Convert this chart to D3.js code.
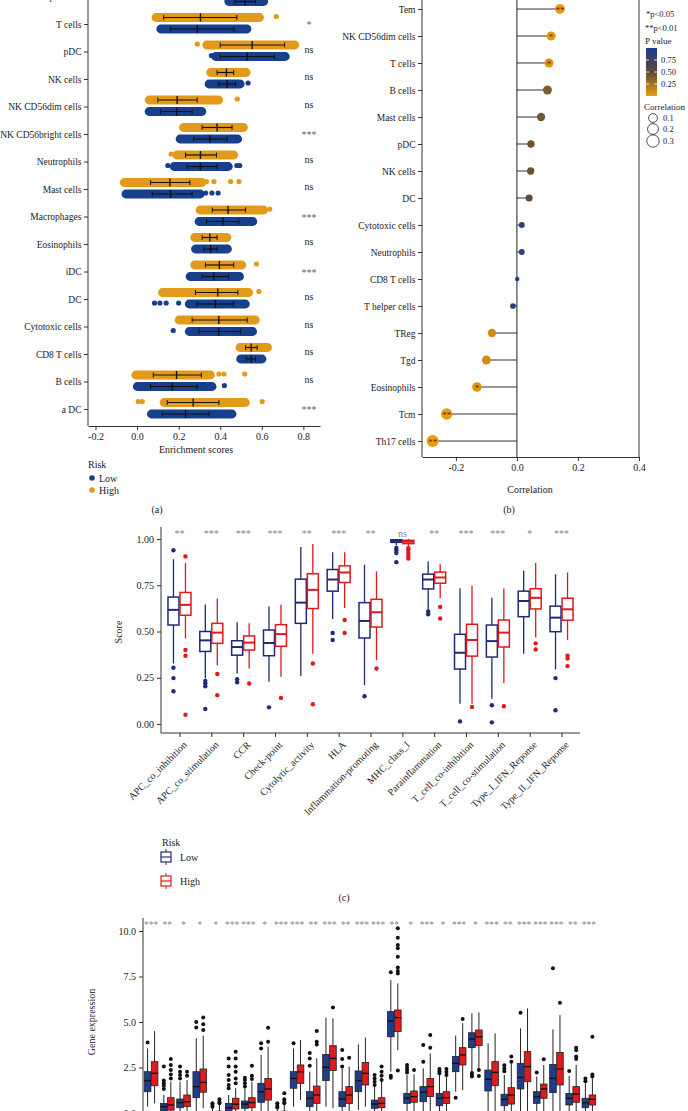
<!DOCTYPE html>
<html>
<head>
<meta charset="utf-8">
<script src="https://cdn.jsdelivr.net/npm/d3@7"></script>
<style>
  body { margin: 0; background: #fff; }
  svg { display: block; }
</style>
</head>
<body>
<svg id="fig" width="688" height="1111"></svg>
<script>
// ---------- panel (a): enrichment scores by risk ----------
const enrichCells = ["T helper cells", "T cells", "pDC", "NK cells", "NK CD56dim cells", "NK CD56bright cells",
  "Neutrophils", "Mast cells", "Macrophages", "Eosinophils", "iDC", "DC", "Cytotoxic cells", "CD8 T cells", "B cells", "a DC"];
const enrichSig = ["", "*", "ns", "ns", "ns", "***", "ns", "ns", "***", "ns", "***", "ns", "ns", "ns", "ns", "***"];
// dense part of each strip [min, max]
const highRange = [[0.42, 0.62], [0.09, 0.59], [0.334, 0.76], [0.353, 0.526], [0.057, 0.394], [0.222, 0.513],
  [0.19, 0.466], [-0.063, 0.313], [0.302, 0.61], [0.276, 0.433], [0.276, 0.505], [0.121, 0.538],
  [0.201, 0.57], [0.494, 0.629], [-0.007, 0.354], [0.129, 0.522]];
const lowRange = [[0.44, 0.61], [0.113, 0.53], [0.377, 0.714], [0.345, 0.497], [0.057, 0.313], [0.206, 0.485],
  [0.177, 0.44], [-0.055, 0.305], [0.297, 0.558], [0.28, 0.436], [0.254, 0.494], [0.25, 0.522],
  [0.25, 0.557], [0.497, 0.602], [0.0, 0.362], [0.068, 0.458]];
// loose points outside the dense part
const highExtra = [[], [0.67], [0.29], [], [0.482], [], [0.164], [0.334, 0.37, 0.45, 0.49], [0.638], [], [0.574], [0.586],
  [], [], [0.394, 0.418, 0.518], [0.006, 0.025, 0.602]];
const lowExtra = [[], [], [0.358], [0.534], [], [], [0.148, 0.48, 0.494], [0.33, 0.36, 0.39], [], [], [], [0.084, 0.11, 0.14, 0.2],
  [0.174], [], [0.42], []];
const highMean = [0.52, 0.305, 0.554, 0.43, 0.193, 0.385, 0.305, 0.158, 0.438, 0.35, 0.396, 0.388, 0.393, 0.549, 0.19, 0.27];
const lowMean = [0.52, 0.29, 0.53, 0.433, 0.19, 0.35, 0.305, 0.161, 0.414, 0.354, 0.369, 0.377, 0.393, 0.549, 0.169, 0.233];
const highBar = [[0.46, 0.58], [0.128, 0.48], [0.40, 0.71], [0.385, 0.465], [0.1, 0.289], [0.313, 0.457], [0.233, 0.382],
  [0.065, 0.254], [0.362, 0.522], [0.313, 0.385], [0.329, 0.465], [0.281, 0.485], [0.265, 0.53], [0.522, 0.578],
  [0.078, 0.309], [0.145, 0.394]];
const lowBar = [[0.47, 0.57], [0.16, 0.466], [0.40, 0.66], [0.393, 0.473], [0.113, 0.265], [0.273, 0.433], [0.241, 0.385],
  [0.073, 0.265], [0.334, 0.49], [0.321, 0.385], [0.313, 0.441], [0.289, 0.465], [0.297, 0.497], [0.526, 0.57],
  [0.065, 0.289], [0.121, 0.346]];

// ---------- panel (b): correlation lollipop ----------
const corrCells = ["Tem", "NK CD56dim cells", "T cells", "B cells", "Mast cells", "pDC", "NK cells", "DC", "Cytotoxic cells",
  "Neutrophils", "CD8 T cells", "T helper cells", "TReg", "Tgd", "Eosinophils", "Tcm", "Th17 cells"];
const corrValues = [0.141, 0.112, 0.105, 0.10, 0.079, 0.046, 0.045, 0.04, 0.016, 0.016, 0.001, -0.013, -0.082, -0.1, -0.131, -0.23, -0.276];
const corrP = [0.004, 0.03, 0.04, 0.38, 0.42, 0.45, 0.45, 0.5, 0.85, 0.87, 0.95, 0.9, 0.1, 0.1, 0.04, 0.003, 0.001];
const corrStars = ["**", "*", "*", "", "", "", "", "", "", "", "", "", "", "", "*", "**", "**"];

// ---------- panel (c): immune function scores ----------
const immuneFn = ["APC_co_inhibition", "APC_co_stimulation", "CCR", "Check-point", "Cytolytic_activity", "HLA",
  "Inflammation-promoting", "MHC_class_I", "Parainflammation", "T_cell_co-inhibition", "T_cell_co-stimulation",
  "Type_I_IFN_Reponse", "Type_II_IFN_Reponse"];
const scoreSig = ["**", "***", "***", "***", "**", "***", "**", "ns", "**", "***", "***", "*", "***"];
// [whisker low, q1, median, q3, whisker high]
const scoreLow = [[0.327, 0.535, 0.617, 0.686, 0.891], [0.246, 0.392, 0.452, 0.50, 0.646], [0.273, 0.372, 0.416, 0.45, 0.55],
  [0.228, 0.369, 0.438, 0.508, 0.635], [0.26, 0.544, 0.656, 0.783, 0.957], [0.568, 0.718, 0.781, 0.835, 0.928],
  [0.21, 0.465, 0.557, 0.656, 0.861], [0.965, 0.982, 0.989, 0.996, 1.0], [0.617, 0.73, 0.781, 0.81, 0.879],
  [0.11, 0.297, 0.385, 0.485, 0.734], [0.137, 0.362, 0.448, 0.535, 0.682], [0.38, 0.58, 0.665, 0.718, 0.83],
  [0.295, 0.499, 0.575, 0.637, 0.81]];
const scoreHigh = [[0.463, 0.588, 0.644, 0.711, 0.87], [0.318, 0.436, 0.494, 0.544, 0.678], [0.30, 0.40, 0.44, 0.476, 0.544],
  [0.255, 0.42, 0.486, 0.537, 0.644], [0.38, 0.624, 0.725, 0.812, 0.973], [0.627, 0.765, 0.819, 0.855, 0.928],
  [0.345, 0.524, 0.604, 0.674, 0.825], [0.96, 0.975, 0.985, 0.993, 1.0], [0.68, 0.761, 0.792, 0.821, 0.864],
  [0.11, 0.367, 0.454, 0.539, 0.747], [0.222, 0.416, 0.494, 0.562, 0.732], [0.468, 0.622, 0.682, 0.731, 0.87],
  [0.454, 0.561, 0.62, 0.68, 0.819]];
const scoreLowOut = [[0.939, 0.304, 0.248, 0.177], [0.233, 0.219, 0.204, 0.081], [0.242, 0.226], [0.09], [], [0.492, 0.454],
  [0.15], [0.951, 0.939, 0.924, 0.875], [0.608, 0.593], [0.014], [0.101, 0.009], [], [0.248, 0.074]];
const scoreHighOut = [[0.906, 0.40, 0.369, 0.05], [0.27, 0.156], [0.219], [0.141], [0.327, 0.107], [0.562, 0.492], [0.30],
  [0.95, 0.94, 0.924, 0.908, 0.895], [0.633, 0.57], [0.092], [0.096], [0.436, 0.403], [0.369, 0.354, 0.313]];

// ---------- panel (d): gene expression (x labels are cut off in the figure) ----------
const genes = ["g01", "g02", "g03", "g04", "g05", "g06", "g07", "g08", "g09", "g10", "g11", "g12", "g13", "g14",
  "g15", "g16", "g17", "g18", "g19", "g20", "g21", "g22", "g23", "g24", "g25", "g26", "g27", "g28"];
const geneSig = ["***", "**", "*", "*", "*", "***", "***", "*", "***", "***", "**", "***", "**", "***",
  "***", "**", "*", "***", "*", "***", "*", "***", "**", "***", "***", "***", "**", "***"];
const geneLow = [[0.35, 1.17, 1.78, 2.27, 3.55], [0, 0.11, 0.35, 0.53, 0.99], [0, 0.29, 0.57, 0.77, 1.72], [0, 0.84, 1.45, 2.27, 4.1],
  [0, 0.02, 0.04, 0.07, 0.3], [0, 0.07, 0.29, 0.53, 0.99], [0, 0.26, 0.49, 0.66, 1.36], [0, 0.59, 1.17, 1.63, 3.19],
  [0, 0.02, 0.04, 0.07, 0.25], [0.35, 1.36, 1.9, 2.27, 3.55], [0, 0.35, 0.81, 1.17, 2.27], [0.35, 1.78, 2.51, 3.22, 5.24],
  [0, 0.35, 0.77, 1.17, 2.45], [0.16, 1.17, 1.78, 2.31, 3.77], [0, 0.26, 0.49, 0.71, 1.45], [2.27, 4.19, 5.05, 5.57, 7.31],
  [0, 0.53, 0.81, 1.08, 2.09], [0, 0.62, 1.14, 1.45, 2.45], [0, 0.40, 0.81, 1.08, 2.09], [1.17, 2.27, 2.73, 3.1, 4.25],
  [2.27, 3.59, 4.07, 4.41, 5.48], [0, 1.21, 1.85, 2.36, 3.83], [0, 0.4, 0.75, 1.03, 2.09], [0, 1.32, 1.96, 2.73, 4.65],
  [0, 0.53, 0.9, 1.17, 2.0], [0, 1.12, 1.9, 2.67, 4.6], [0, 0.44, 0.81, 1.08, 2.05], [0, 0.29, 0.57, 0.81, 1.63]];
const geneHigh = [[0.53, 1.50, 2.18, 2.82, 4.5], [0, 0.16, 0.44, 0.84, 1.72], [0, 0.35, 0.62, 0.99, 1.81], [0.26, 1.14, 1.68, 2.42, 4.25],
  [0, 0.02, 0.05, 0.1, 0.45], [0, 0.22, 0.48, 0.81, 1.36], [0, 0.29, 0.57, 0.84, 1.72], [0, 0.71, 1.32, 1.9, 3.64],
  [0, 0.03, 0.06, 0.1, 0.45], [0.71, 1.63, 2.27, 2.64, 4.01], [0, 0.53, 0.99, 1.48, 3.0], [0.26, 2.34, 3.0, 3.7, 5.2],
  [0, 0.53, 0.99, 1.45, 2.55], [0.35, 1.54, 2.18, 2.78, 4.14], [0, 0.29, 0.53, 0.84, 1.72], [3.46, 4.47, 5.24, 5.66, 7.12],
  [0, 0.59, 0.9, 1.21, 2.12], [0, 0.9, 1.45, 1.9, 3.28], [0, 0.53, 0.84, 1.17, 2.0], [1.26, 2.64, 3.19, 3.59, 4.93],
  [2.45, 3.7, 4.19, 4.56, 5.53], [0, 1.5, 2.23, 2.82, 4.38], [0, 0.49, 0.99, 1.39, 2.73], [0, 1.72, 2.55, 3.37, 5.75],
  [0, 0.81, 1.32, 1.59, 2.64], [0, 1.54, 2.42, 3.33, 5.38], [0, 0.59, 1.04, 1.45, 2.64], [0, 0.44, 0.75, 0.99, 1.9]];
const geneLowOut = [[3.88], [1.32, 1.5, 1.63, 1.78, 2.55], [1.9, 2.09, 2.27, 2.55], [4.7, 5.0], [0.35, 0.44, 0.53],
  [1.36, 1.54, 1.81, 2.09, 2.55, 3.0], [1.45, 1.63, 1.81, 1.94], [3.55, 3.83], [0.3, 0.4, 0.53], [3.83], [2.6, 3.0, 3.3], [],
  [2.55, 2.97, 3.46], [], [1.54, 1.72, 1.9, 2.09], [7.73, 2.05, 1.94], [2.23, 2.36, 2.49, 2.64], [2.82, 3.74], [2.18, 2.3, 2.42],
  [0.84], [2.0, 2.1, 2.2], [], [2.3, 2.45, 2.63], [5.51], [2.23], [7.95], [2.31], [1.75, 1.9]];
const geneHighOut = [[], [1.9, 2.12, 2.36, 2.64, 2.97], [2.05, 2.27], [4.56, 4.87, 5.25], [0.53, 0.62, 0.75],
  [1.63, 1.9, 2.27, 2.55, 3.0, 3.37], [1.87, 2.05, 2.6], [3.92, 4.69], [0.53, 0.62, 0.75, 1.08], [], [3.77, 3.92, 4.5], [5.8],
  [3.04], [], [1.81, 2.05, 2.27, 2.55], [7.67, 7.8, 7.99, 8.59, 9.05, 9.23, 9.63, 10.15, 2.33], [2.36], [3.59, 4.29],
  [2.09, 2.25, 2.42], [5.16], [2.36, 2.03], [], [2.82, 3.1], [], [2.95], [6.06], [2.97, 3.1, 3.45, 3.59], [2.0, 2.12, 4.19]];

const serif = "'Liberation Serif', 'DejaVu Serif', serif";
const svg = d3.select("#fig");
const fmt1 = d => d.toFixed(1);
const fmt2 = d => d.toFixed(2);

function styleAxis(g, size) {
  g.selectAll("text").attr("font-family", serif).attr("font-size", size || 10).attr("fill", "#222");
  g.selectAll("path.domain, .tick line").attr("stroke", "#333");
}
function label(g, x, y, txt, size, anchor) {
  return g.append("text").attr("x", x).attr("y", y).attr("font-family", serif)
    .attr("font-size", size || 10).attr("fill", "#222").attr("text-anchor", anchor || "start").text(txt);
}

// ================= (a) =================
const riskLow = "#173f8c", riskHigh = "#e39a1b";
const ga = svg.append("g");
const xA = d3.scaleLinear().domain([-0.236, 0.88]).range([88, 320]);
const yA = d3.scalePoint().domain(enrichCells).range([-3.5, 409]);

function strip(cy, color, range, extra, mean, bar) {
  ga.append("rect").attr("x", xA(range[0]) - 4.2).attr("width", xA(range[1]) - xA(range[0]) + 8.4)
    .attr("y", cy - 4.4).attr("height", 8.8).attr("rx", 4.4).attr("fill", color);
  extra.forEach(v => ga.append("circle").attr("cx", xA(v)).attr("cy", cy - 1).attr("r", 2.6).attr("fill", color));
  ga.append("line").attr("x1", xA(bar[0])).attr("x2", xA(bar[1])).attr("y1", cy).attr("y2", cy)
    .attr("stroke", "#111").attr("stroke-width", 1.2);
  [bar[0], bar[1]].forEach(v => ga.append("line").attr("x1", xA(v)).attr("x2", xA(v))
    .attr("y1", cy - 2.5).attr("y2", cy + 2.5).attr("stroke", "#111").attr("stroke-width", 1));
  ga.append("line").attr("x1", xA(mean)).attr("x2", xA(mean)).attr("y1", cy - 4).attr("y2", cy + 4)
    .attr("stroke", "#111").attr("stroke-width", 1.4);
}
enrichCells.forEach((c, i) => {
  strip(yA(c) - 6.5, riskHigh, highRange[i], highExtra[i], highMean[i], highBar[i]);
  strip(yA(c) + 5, riskLow, lowRange[i], lowExtra[i], lowMean[i], lowBar[i]);
  if (enrichSig[i]) {
    ga.append("text").attr("x", 309).attr("y", yA(c) + (enrichSig[i] === "ns" ? 1 : 4)).attr("text-anchor", "middle")
      .attr("font-family", serif).attr("font-size", 10)
      .attr("fill", enrichSig[i] === "ns" ? "#222" : "#666").text(enrichSig[i]);
  }
});
const axALeft = ga.append("g").attr("transform", "translate(88,0)")
  .call(d3.axisLeft(yA).tickSize(4).tickPadding(2.5).tickSizeOuter(0));
axALeft.select(".domain").remove();
styleAxis(axALeft, 9.5);
ga.append("line").attr("x1", 88).attr("x2", 88).attr("y1", 0).attr("y2", 426).attr("stroke", "#333");
const axABottom = ga.append("g").attr("transform", "translate(0,426)")
  .call(d3.axisBottom(xA).tickValues([-0.2, 0, 0.2, 0.4, 0.6, 0.8]).tickFormat(fmt1).tickSize(4).tickSizeOuter(0));
styleAxis(axABottom, 10);
label(ga, 196, 453, "Enrichment scores", 10, "middle");
label(ga, 88, 468, "Risk", 10);
ga.append("circle").attr("cx", 92).attr("cy", 478).attr("r", 2.8).attr("fill", riskLow);
label(ga, 99, 481.5, "Low", 10);
ga.append("circle").attr("cx", 92).attr("cy", 490).attr("r", 2.8).attr("fill", riskHigh);
label(ga, 99, 493.5, "High", 10);
label(ga, 157, 513, "(a)", 10, "middle");

// ================= (b) =================
const gb = svg.append("g");
const xB = d3.scaleLinear().domain([-0.311, 0.4]).range([422, 639]);
const yB = d3.scalePoint().domain(corrCells).range([9, 441]);
const pColor = d3.scaleLinear().domain([0, 0.5, 1]).range(["#ea9d0c", "#5d4a37", "#1b3c8e"]);
const rB = d3.scaleSqrt().domain([0, 0.3]).range([2, 6.2]);

gb.append("line").attr("x1", xB(0)).attr("x2", xB(0)).attr("y1", 0).attr("y2", 457).attr("stroke", "#222");
gb.append("line").attr("x1", 639).attr("x2", 639).attr("y1", 0).attr("y2", 457).attr("stroke", "#333");
gb.append("line").attr("x1", 422).attr("x2", 422).attr("y1", 0).attr("y2", 457).attr("stroke", "#333");
corrCells.forEach((c, i) => {
  const cy = yB(c), cx = xB(corrValues[i]);
  gb.append("line").attr("x1", xB(0)).attr("x2", cx).attr("y1", cy).attr("y2", cy).attr("stroke", "#333").attr("stroke-width", 1);
  gb.append("circle").attr("cx", cx).attr("cy", cy).attr("r", rB(Math.abs(corrValues[i]))).attr("fill", pColor(corrP[i]));
  if (corrStars[i]) {
    gb.append("text").attr("x", cx).attr("y", cy + 3.5).attr("text-anchor", "middle").attr("font-family", serif)
      .attr("font-size", 9).attr("fill", "#6a1a0c").text(corrStars[i]);
  }
});
const axBLeft = gb.append("g").attr("transform", "translate(422,0)")
  .call(d3.axisLeft(yB).tickSize(4).tickPadding(2.5).tickSizeOuter(0));
axBLeft.select(".domain").remove();
styleAxis(axBLeft, 9.5);
const axBBottom = gb.append("g").attr("transform", "translate(0,457)")
  .call(d3.axisBottom(xB).tickValues([-0.2, 0, 0.2, 0.4]).tickFormat(fmt1).tickSize(4).tickSizeOuter(0));
styleAxis(axBBottom, 10);
label(gb, 530, 493, "Correlation", 10, "middle");
label(gb, 509, 513, "(b)", 10, "middle");

// legend (b)
label(gb, 646, 17, "*p<0.05", 8.5);
label(gb, 645, 31, "**p<0.01", 8.5);
label(gb, 645, 44, "P value", 9);
const grad = svg.append("defs").append("linearGradient").attr("id", "pgrad")
  .attr("x1", 0).attr("y1", 0).attr("x2", 0).attr("y2", 1);
[1, 0.75, 0.5, 0.25, 0].forEach(p => grad.append("stop").attr("offset", (1 - p) * 100 + "%").attr("stop-color", pColor(p)));
const pBar = d3.scaleLinear().domain([0, 1]).range([96, 48]);
gb.append("rect").attr("x", 646).attr("y", 48).attr("width", 11).attr("height", 48).attr("fill", "url(#pgrad)");
[0.75, 0.5, 0.25].forEach(p => {
  gb.append("line").attr("x1", 646).attr("x2", 649).attr("y1", pBar(p)).attr("y2", pBar(p)).attr("stroke", "#fff").attr("stroke-width", 0.8);
  gb.append("line").attr("x1", 654).attr("x2", 657).attr("y1", pBar(p)).attr("y2", pBar(p)).attr("stroke", "#fff").attr("stroke-width", 0.8);
  label(gb, 661, pBar(p) + 3, p.toFixed(2), 8.5);
});
label(gb, 644, 110, "Correlation", 9);
[[0.1, 118], [0.2, 129], [0.3, 141]].forEach(([v, cy]) => {
  gb.append("circle").attr("cx", 653).attr("cy", cy).attr("r", rB(v)).attr("fill", "none").attr("stroke", "#222").attr("stroke-width", 0.8);
  label(gb, 663, cy + 3, v.toFixed(1), 8.5);
});

// ================= (c) =================
const gc = svg.append("g");
const boxLowC = "#1f2a78", boxHighC = "#e0191c";
const xC = d3.scalePoint().domain(immuneFn).range([161, 580]).padding(0.58);
const yC = d3.scaleLinear().domain([0, 1]).range([724, 539]);

function boxC(cx, s, outs, color) {
  const w = 11;
  gc.append("line").attr("x1", cx).attr("x2", cx).attr("y1", yC(s[4])).attr("y2", yC(s[3])).attr("stroke", color).attr("stroke-width", 1.3);
  gc.append("line").attr("x1", cx).attr("x2", cx).attr("y1", yC(s[1])).attr("y2", yC(s[0])).attr("stroke", color).attr("stroke-width", 1.3);
  gc.append("rect").attr("x", cx - w / 2).attr("width", w).attr("y", yC(s[3])).attr("height", Math.max(1, yC(s[1]) - yC(s[3])))
    .attr("fill", "#fff").attr("stroke", color).attr("stroke-width", 1.5);
  gc.append("line").attr("x1", cx - w / 2).attr("x2", cx + w / 2).attr("y1", yC(s[2])).attr("y2", yC(s[2]))
    .attr("stroke", color).attr("stroke-width", 2);
  outs.forEach(v => gc.append("circle").attr("cx", cx).attr("cy", yC(v)).attr("r", 2.2).attr("fill", color));
}
immuneFn.forEach((f, i) => {
  boxC(xC(f) - 6, scoreLow[i], scoreLowOut[i], boxLowC);
  boxC(xC(f) + 6, scoreHigh[i], scoreHighOut[i], boxHighC);
  gc.append("text").attr("x", xC(f)).attr("y", 537).attr("text-anchor", "middle").attr("font-family", serif)
    .attr("font-size", 10).attr("fill", "#888").text(scoreSig[i]);
});
const axCLeft = gc.append("g").attr("transform", "translate(161,0)")
  .call(d3.axisLeft(yC).tickValues([0, 0.25, 0.5, 0.75, 1]).tickFormat(fmt2).tickSize(4).tickSizeOuter(0));
axCLeft.select(".domain").remove();
styleAxis(axCLeft, 10);
gc.append("line").attr("x1", 161).attr("x2", 161).attr("y1", 527).attr("y2", 733).attr("stroke", "#333");
const axCBottom = gc.append("g").attr("transform", "translate(0,733)")
  .call(d3.axisBottom(xC).tickSize(4).tickSizeOuter(0));
styleAxis(axCBottom, 10);
axCBottom.select(".domain").attr("d", "M161,0H580");
axCBottom.selectAll("text").attr("text-anchor", "end").attr("x", 0).attr("y", 0).attr("dy", "0.35em")
  .attr("transform", "translate(5,10) rotate(-45)");
label(gc, 0, 0, "Score", 10, "middle").attr("transform", "translate(122,632) rotate(-90)");
label(gc, 162, 846, "Risk", 10);
function legendBox(y, color) {
  gc.append("line").attr("x1", 166).attr("x2", 166).attr("y1", y - 8).attr("y2", y + 8).attr("stroke", color).attr("stroke-width", 1);
  gc.append("rect").attr("x", 161).attr("y", y - 5).attr("width", 10).attr("height", 10).attr("fill", "#fff").attr("stroke", color).attr("stroke-width", 1.2);
  gc.append("line").attr("x1", 161).attr("x2", 171).attr("y1", y).attr("y2", y).attr("stroke", color).attr("stroke-width", 1.2);
}
legendBox(857, boxLowC);
label(gc, 180, 860.5, "Low", 10);
legendBox(881, boxHighC);
label(gc, 180, 884.5, "High", 10);
label(gc, 344, 901, "(c)", 10, "middle");

// ================= (d) =================
const gd = svg.append("g");
const fillLowD = "#1f3d8a", fillHighD = "#e31a1c";
const xD = d3.scalePoint().domain(genes).range([143, 597]).padding(0.5);
const yD = d3.scaleLinear().domain([0, 10]).range([1113, 931]);

function boxD(cx, s, outs, fill) {
  const w = 6.6;
  gd.append("line").attr("x1", cx).attr("x2", cx).attr("y1", yD(s[4])).attr("y2", yD(s[0])).attr("stroke", "#222").attr("stroke-width", 1);
  gd.append("rect").attr("x", cx - w / 2).attr("width", w).attr("y", yD(s[3])).attr("height", Math.max(1, yD(s[1]) - yD(s[3])))
    .attr("fill", fill).attr("stroke", "#222").attr("stroke-width", 0.8);
  gd.append("line").attr("x1", cx - w / 2).attr("x2", cx + w / 2).attr("y1", yD(s[2])).attr("y2", yD(s[2]))
    .attr("stroke", "#111").attr("stroke-width", 1.4);
  outs.forEach(v => gd.append("circle").attr("cx", cx).attr("cy", yD(v)).attr("r", 2).attr("fill", "#111"));
}
genes.forEach((g, i) => {
  boxD(xD(g) - 3.5, geneLow[i], geneLowOut[i], fillLowD);
  boxD(xD(g) + 3.5, geneHigh[i], geneHighOut[i], fillHighD);
  gd.append("text").attr("x", xD(g)).attr("y", 928).attr("text-anchor", "middle").attr("font-family", serif)
    .attr("font-size", 9.5).attr("fill", "#888").text(geneSig[i]);
});
const axDLeft = gd.append("g").attr("transform", "translate(143,0)")
  .call(d3.axisLeft(yD).tickValues([0, 2.5, 5, 7.5, 10]).tickFormat(fmt1).tickSize(4).tickSizeOuter(0));
axDLeft.select(".domain").remove();
styleAxis(axDLeft, 10);
gd.append("line").attr("x1", 143).attr("x2", 143).attr("y1", 918).attr("y2", 1113).attr("stroke", "#333");
label(gd, 0, 0, "Gene expression", 10, "middle").attr("transform", "translate(95,1022) rotate(-90)");
</script>
</body>
</html>
